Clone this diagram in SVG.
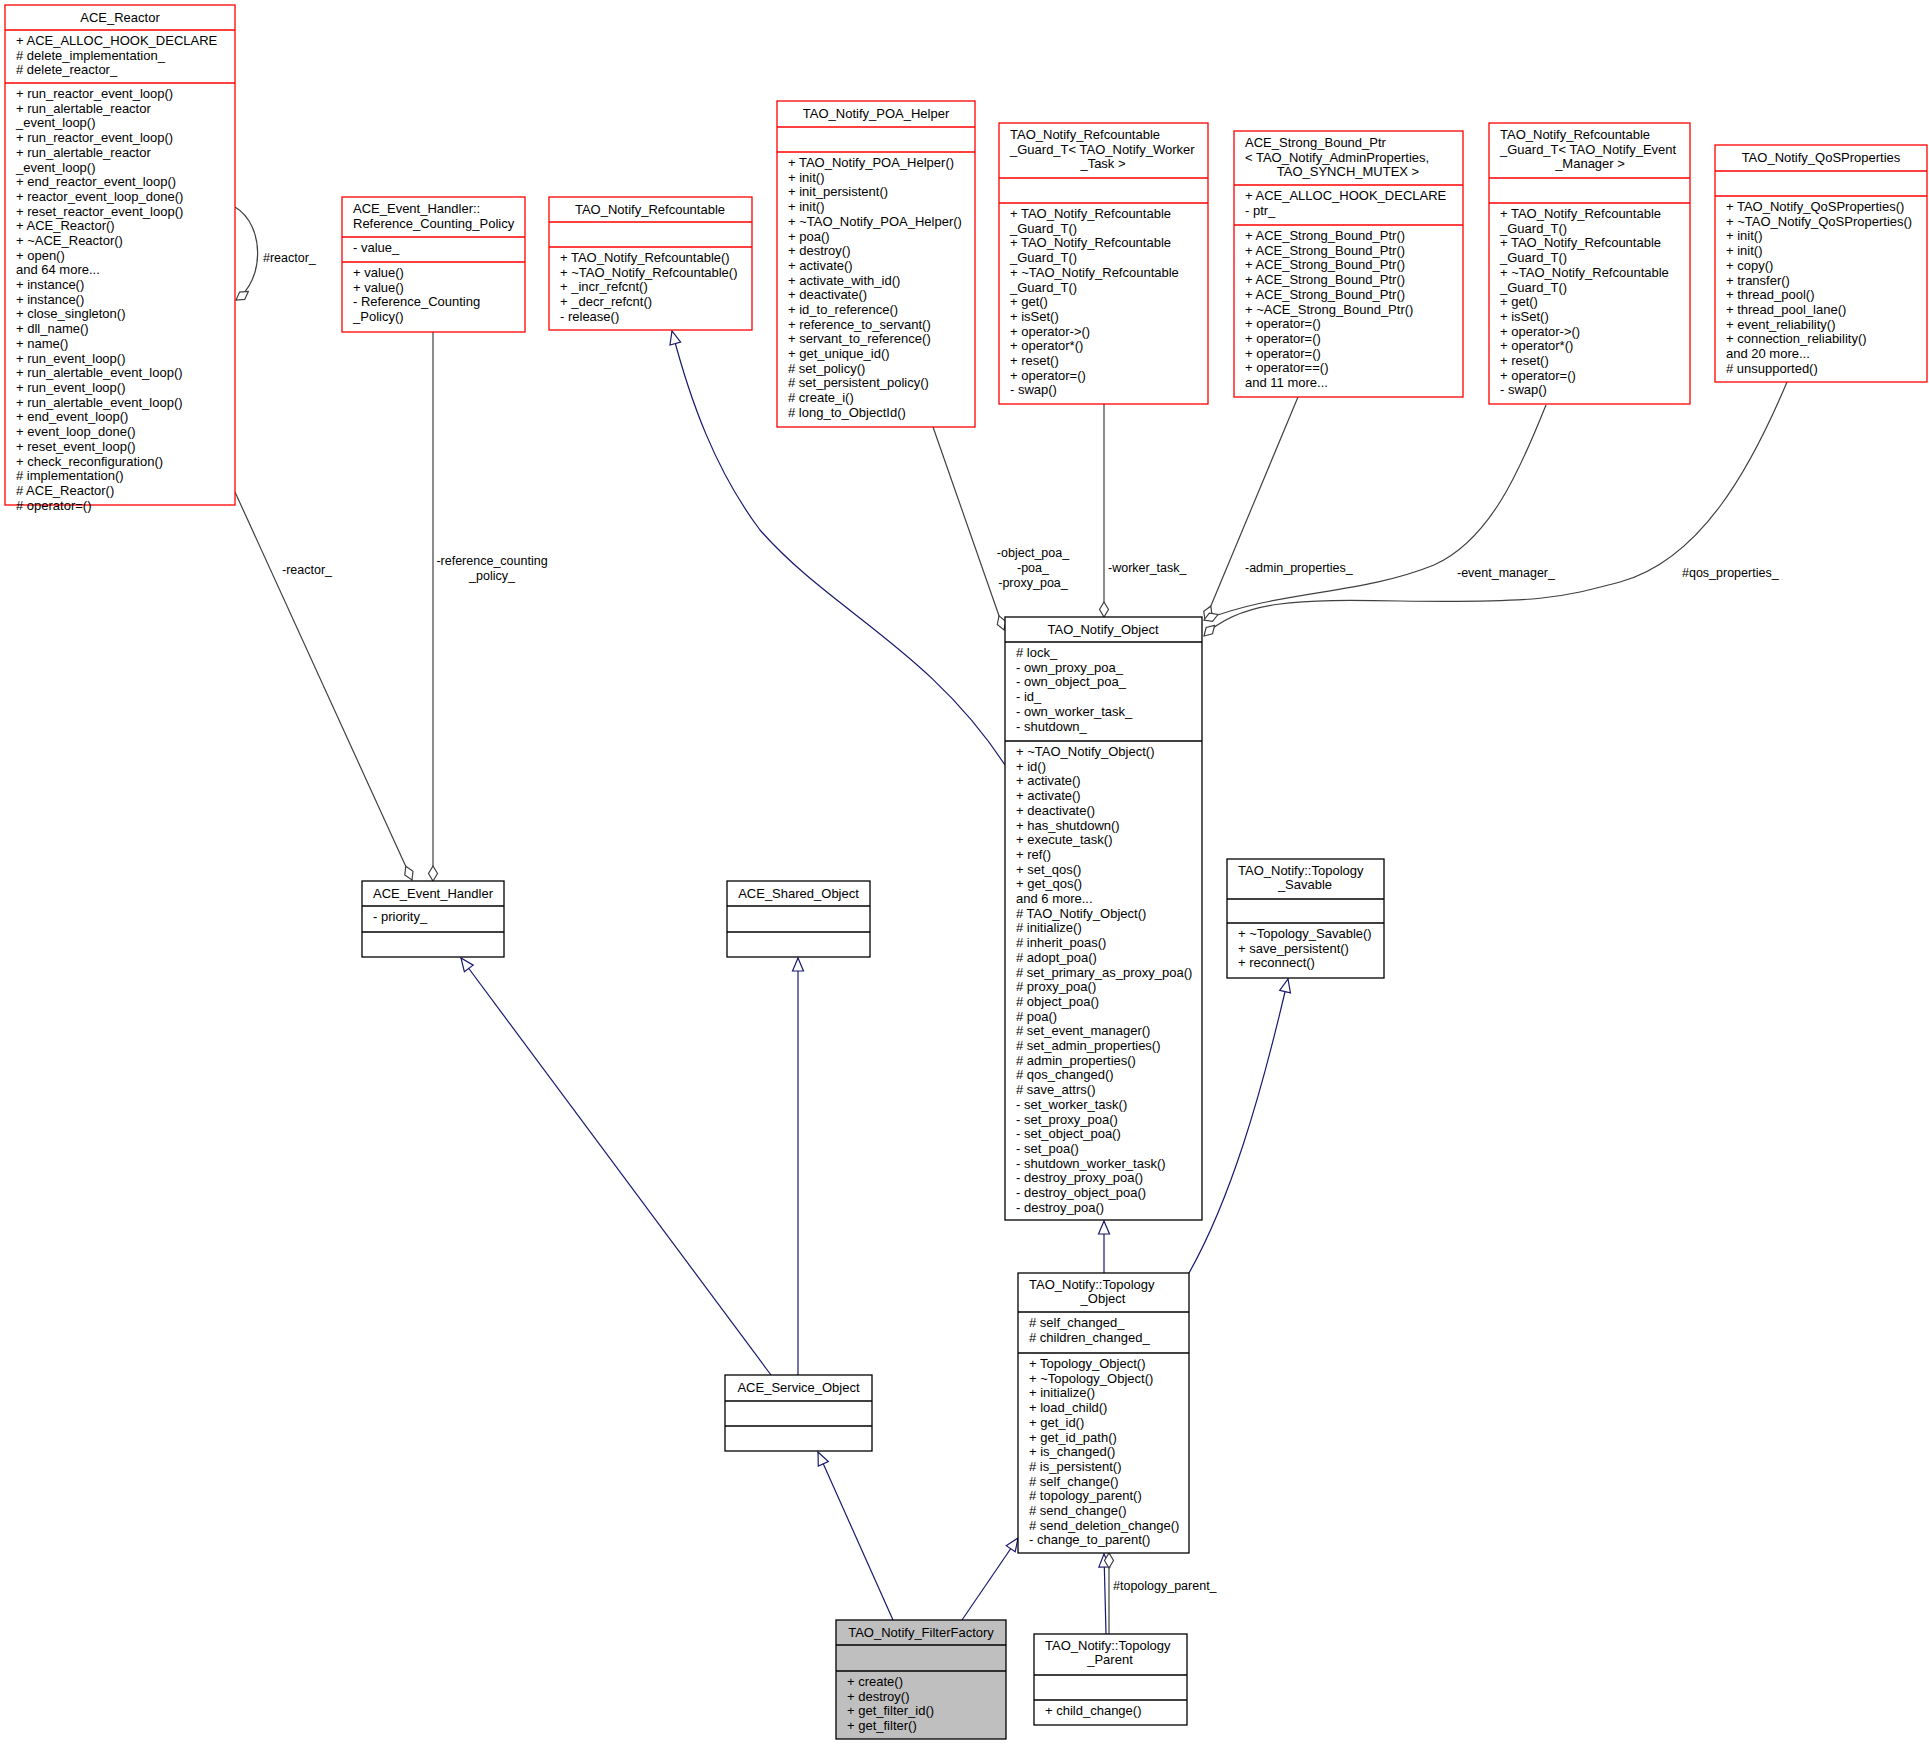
<svg xmlns="http://www.w3.org/2000/svg" width="1929" height="1747" viewBox="0 0 1929 1747">
<style>
text{font-family:"Liberation Sans",Arial,sans-serif;font-size:13px;fill:#000}
.c{text-anchor:middle}
rect{fill:#fff;stroke:#000;stroke-width:1.3}
.r rect{stroke:#ff0000}
line.s{stroke:#000;stroke-width:1.3}
.r line.s{stroke:#ff0000}
.agg{fill:none;stroke:#404040;stroke-width:1.2;marker-end:url(#dia)}
.inh{fill:none;stroke:#191970;stroke-width:1.2;marker-end:url(#tri)}
.lbl{font-size:12.5px}
</style>
<defs>
<marker id="dia" viewBox="-1 -6 17 12" refX="15" refY="0" markerWidth="17" markerHeight="12" markerUnits="userSpaceOnUse" orient="auto"><path d="M0,0 L7.5,-4.5 L15,0 L7.5,4.5 Z" fill="#fff" stroke="#404040" stroke-width="1.2"/></marker>
<marker id="tri" viewBox="-1 -7 15 14" refX="13" refY="0" markerWidth="15" markerHeight="14" markerUnits="userSpaceOnUse" orient="auto"><path d="M0,-5.5 L13,0 L0,5.5 Z" fill="#fff" stroke="#191970" stroke-width="1.2"/></marker>
</defs>

<g id="connectors">
<path class="agg" d="M235,207 C265,225 265,280 236,300"/>
<path class="agg" d="M235,492 L412,880"/>
<path class="agg" d="M433,332 L433,881"/>
<path class="inh" d="M1005,765 C930,650 830,610 760,530 C715,470 690,400 672,331"/>
<path class="agg" d="M933,427 L1004,630"/>
<path class="agg" d="M1104,404 L1104,617"/>
<path class="agg" d="M1298,397 L1205,620"/>
<path class="agg" d="M1546,405 C1520,470 1490,540 1434,565 C1360,595 1280,590 1204,620"/>
<path class="agg" d="M1787,382 C1750,470 1700,560 1620,582 C1560,598 1540,603 1400,601 C1300,599 1240,600 1204,636"/>
<path class="inh" d="M771,1375 L461,958"/>
<path class="inh" d="M798,1375 L798,958"/>
<path class="inh" d="M1104,1273 L1104,1221"/>
<path class="inh" d="M1189,1273 C1230,1200 1260,1100 1288,979"/>
<path class="inh" d="M893,1620 L818,1452"/>
<path class="inh" d="M962,1620 L1018,1538"/>
<path class="inh" d="M1106,1634 L1104,1554"/>
<path class="agg" d="M1109,1634 L1109,1553"/>
<text class="lbl" x="263" y="262">#reactor_</text>
<text class="lbl" x="282" y="574">-reactor_</text>
<text class="lbl c" x="492" y="565">-reference_counting</text>
<text class="lbl c" x="492" y="580">_policy_</text>
<text class="lbl c" x="1033" y="557">-object_poa_</text>
<text class="lbl c" x="1033" y="572">-poa_</text>
<text class="lbl c" x="1033" y="587">-proxy_poa_</text>
<text class="lbl" x="1108" y="572">-worker_task_</text>
<text class="lbl" x="1245" y="572">-admin_properties_</text>
<text class="lbl" x="1457" y="577">-event_manager_</text>
<text class="lbl" x="1682" y="577">#qos_properties_</text>
<text class="lbl" x="1113" y="1590">#topology_parent_</text>
</g>

<g id="ACE_Reactor" class="r">
<rect x="5" y="5" width="230" height="500"/>
<line class="s" x1="5" y1="30" x2="235" y2="30"/><line class="s" x1="5" y1="83" x2="235" y2="83"/>
<text class="c" x="120" y="22">ACE_Reactor</text>
<text x="16" y="45"><tspan>+ ACE_ALLOC_HOOK_DECLARE</tspan><tspan x="16" dy="14.7"># delete_implementation_</tspan><tspan x="16" dy="14.7"># delete_reactor_</tspan></text>
<text x="16" y="98"><tspan>+ run_reactor_event_loop()</tspan><tspan x="16" dy="14.7">+ run_alertable_reactor</tspan><tspan x="16" dy="14.7">_event_loop()</tspan><tspan x="16" dy="14.7">+ run_reactor_event_loop()</tspan><tspan x="16" dy="14.7">+ run_alertable_reactor</tspan><tspan x="16" dy="14.7">_event_loop()</tspan><tspan x="16" dy="14.7">+ end_reactor_event_loop()</tspan><tspan x="16" dy="14.7">+ reactor_event_loop_done()</tspan><tspan x="16" dy="14.7">+ reset_reactor_event_loop()</tspan><tspan x="16" dy="14.7">+ ACE_Reactor()</tspan><tspan x="16" dy="14.7">+ ~ACE_Reactor()</tspan><tspan x="16" dy="14.7">+ open()</tspan><tspan x="16" dy="14.7">and 64 more...</tspan><tspan x="16" dy="14.7">+ instance()</tspan><tspan x="16" dy="14.7">+ instance()</tspan><tspan x="16" dy="14.7">+ close_singleton()</tspan><tspan x="16" dy="14.7">+ dll_name()</tspan><tspan x="16" dy="14.7">+ name()</tspan><tspan x="16" dy="14.7">+ run_event_loop()</tspan><tspan x="16" dy="14.7">+ run_alertable_event_loop()</tspan><tspan x="16" dy="14.7">+ run_event_loop()</tspan><tspan x="16" dy="14.7">+ run_alertable_event_loop()</tspan><tspan x="16" dy="14.7">+ end_event_loop()</tspan><tspan x="16" dy="14.7">+ event_loop_done()</tspan><tspan x="16" dy="14.7">+ reset_event_loop()</tspan><tspan x="16" dy="14.7">+ check_reconfiguration()</tspan><tspan x="16" dy="14.7"># implementation()</tspan><tspan x="16" dy="14.7"># ACE_Reactor()</tspan><tspan x="16" dy="14.7"># operator=()</tspan></text>
</g>

<g id="Reference_Counting_Policy" class="r">
<rect x="342" y="197" width="183" height="135"/>
<line class="s" x1="342" y1="237" x2="525" y2="237"/><line class="s" x1="342" y1="262" x2="525" y2="262"/>
<text x="353" y="213"><tspan>ACE_Event_Handler::</tspan><tspan x="353" dy="14.7">Reference_Counting_Policy</tspan></text>
<text x="353" y="252">- value_</text>
<text x="353" y="277"><tspan>+ value()</tspan><tspan x="353" dy="14.7">+ value()</tspan><tspan x="353" dy="14.7">- Reference_Counting</tspan><tspan x="353" dy="14.7">_Policy()</tspan></text>
</g>

<g id="TAO_Notify_Refcountable" class="r">
<rect x="549" y="197" width="203" height="133"/>
<line class="s" x1="549" y1="222" x2="752" y2="222"/><line class="s" x1="549" y1="247" x2="752" y2="247"/>
<text class="c" x="650" y="214">TAO_Notify_Refcountable</text>
<text x="560" y="262"><tspan>+ TAO_Notify_Refcountable()</tspan><tspan x="560" dy="14.7">+ ~TAO_Notify_Refcountable()</tspan><tspan x="560" dy="14.7">+ _incr_refcnt()</tspan><tspan x="560" dy="14.7">+ _decr_refcnt()</tspan><tspan x="560" dy="14.7">- release()</tspan></text>
</g>

<g id="TAO_Notify_POA_Helper" class="r">
<rect x="777" y="101" width="198" height="326"/>
<line class="s" x1="777" y1="127" x2="975" y2="127"/><line class="s" x1="777" y1="152" x2="975" y2="152"/>
<text class="c" x="876" y="118">TAO_Notify_POA_Helper</text>
<text x="788" y="167"><tspan>+ TAO_Notify_POA_Helper()</tspan><tspan x="788" dy="14.7">+ init()</tspan><tspan x="788" dy="14.7">+ init_persistent()</tspan><tspan x="788" dy="14.7">+ init()</tspan><tspan x="788" dy="14.7">+ ~TAO_Notify_POA_Helper()</tspan><tspan x="788" dy="14.7">+ poa()</tspan><tspan x="788" dy="14.7">+ destroy()</tspan><tspan x="788" dy="14.7">+ activate()</tspan><tspan x="788" dy="14.7">+ activate_with_id()</tspan><tspan x="788" dy="14.7">+ deactivate()</tspan><tspan x="788" dy="14.7">+ id_to_reference()</tspan><tspan x="788" dy="14.7">+ reference_to_servant()</tspan><tspan x="788" dy="14.7">+ servant_to_reference()</tspan><tspan x="788" dy="14.7">+ get_unique_id()</tspan><tspan x="788" dy="14.7"># set_policy()</tspan><tspan x="788" dy="14.7"># set_persistent_policy()</tspan><tspan x="788" dy="14.7"># create_i()</tspan><tspan x="788" dy="14.7"># long_to_ObjectId()</tspan></text>
</g>

<g id="Guard_Worker_Task" class="r">
<rect x="999" y="123" width="209" height="281"/>
<line class="s" x1="999" y1="178" x2="1208" y2="178"/><line class="s" x1="999" y1="203" x2="1208" y2="203"/>
<text x="1010" y="139"><tspan>TAO_Notify_Refcountable</tspan><tspan x="1010" dy="14.7">_Guard_T&lt; TAO_Notify_Worker</tspan></text>
<text class="c" x="1103" y="168.4">_Task &gt;</text>
<text x="1010" y="218"><tspan>+ TAO_Notify_Refcountable</tspan><tspan x="1010" dy="14.7">_Guard_T()</tspan><tspan x="1010" dy="14.7">+ TAO_Notify_Refcountable</tspan><tspan x="1010" dy="14.7">_Guard_T()</tspan><tspan x="1010" dy="14.7">+ ~TAO_Notify_Refcountable</tspan><tspan x="1010" dy="14.7">_Guard_T()</tspan><tspan x="1010" dy="14.7">+ get()</tspan><tspan x="1010" dy="14.7">+ isSet()</tspan><tspan x="1010" dy="14.7">+ operator-&gt;()</tspan><tspan x="1010" dy="14.7">+ operator*()</tspan><tspan x="1010" dy="14.7">+ reset()</tspan><tspan x="1010" dy="14.7">+ operator=()</tspan><tspan x="1010" dy="14.7">- swap()</tspan></text>
</g>

<g id="ACE_Strong_Bound_Ptr" class="r">
<rect x="1234" y="131" width="229" height="266"/>
<line class="s" x1="1234" y1="185" x2="1463" y2="185"/><line class="s" x1="1234" y1="225" x2="1463" y2="225"/>
<text x="1245" y="147"><tspan>ACE_Strong_Bound_Ptr</tspan><tspan x="1245" dy="14.7">&lt; TAO_Notify_AdminProperties,</tspan></text>
<text class="c" x="1348" y="176.4">TAO_SYNCH_MUTEX &gt;</text>
<text x="1245" y="200"><tspan>+ ACE_ALLOC_HOOK_DECLARE</tspan><tspan x="1245" dy="14.7">- ptr_</tspan></text>
<text x="1245" y="240"><tspan>+ ACE_Strong_Bound_Ptr()</tspan><tspan x="1245" dy="14.7">+ ACE_Strong_Bound_Ptr()</tspan><tspan x="1245" dy="14.7">+ ACE_Strong_Bound_Ptr()</tspan><tspan x="1245" dy="14.7">+ ACE_Strong_Bound_Ptr()</tspan><tspan x="1245" dy="14.7">+ ACE_Strong_Bound_Ptr()</tspan><tspan x="1245" dy="14.7">+ ~ACE_Strong_Bound_Ptr()</tspan><tspan x="1245" dy="14.7">+ operator=()</tspan><tspan x="1245" dy="14.7">+ operator=()</tspan><tspan x="1245" dy="14.7">+ operator=()</tspan><tspan x="1245" dy="14.7">+ operator==()</tspan><tspan x="1245" dy="14.7">and 11 more...</tspan></text>
</g>

<g id="Guard_Event_Manager" class="r">
<rect x="1489" y="123" width="201" height="281"/>
<line class="s" x1="1489" y1="178" x2="1690" y2="178"/><line class="s" x1="1489" y1="203" x2="1690" y2="203"/>
<text x="1500" y="139"><tspan>TAO_Notify_Refcountable</tspan><tspan x="1500" dy="14.7">_Guard_T&lt; TAO_Notify_Event</tspan></text>
<text class="c" x="1590" y="168.4">_Manager &gt;</text>
<text x="1500" y="218"><tspan>+ TAO_Notify_Refcountable</tspan><tspan x="1500" dy="14.7">_Guard_T()</tspan><tspan x="1500" dy="14.7">+ TAO_Notify_Refcountable</tspan><tspan x="1500" dy="14.7">_Guard_T()</tspan><tspan x="1500" dy="14.7">+ ~TAO_Notify_Refcountable</tspan><tspan x="1500" dy="14.7">_Guard_T()</tspan><tspan x="1500" dy="14.7">+ get()</tspan><tspan x="1500" dy="14.7">+ isSet()</tspan><tspan x="1500" dy="14.7">+ operator-&gt;()</tspan><tspan x="1500" dy="14.7">+ operator*()</tspan><tspan x="1500" dy="14.7">+ reset()</tspan><tspan x="1500" dy="14.7">+ operator=()</tspan><tspan x="1500" dy="14.7">- swap()</tspan></text>
</g>

<g id="TAO_Notify_QoSProperties" class="r">
<rect x="1715" y="145" width="212" height="237"/>
<line class="s" x1="1715" y1="171" x2="1927" y2="171"/><line class="s" x1="1715" y1="196" x2="1927" y2="196"/>
<text class="c" x="1821" y="162">TAO_Notify_QoSProperties</text>
<text x="1726" y="211"><tspan>+ TAO_Notify_QoSProperties()</tspan><tspan x="1726" dy="14.7">+ ~TAO_Notify_QoSProperties()</tspan><tspan x="1726" dy="14.7">+ init()</tspan><tspan x="1726" dy="14.7">+ init()</tspan><tspan x="1726" dy="14.7">+ copy()</tspan><tspan x="1726" dy="14.7">+ transfer()</tspan><tspan x="1726" dy="14.7">+ thread_pool()</tspan><tspan x="1726" dy="14.7">+ thread_pool_lane()</tspan><tspan x="1726" dy="14.7">+ event_reliability()</tspan><tspan x="1726" dy="14.7">+ connection_reliability()</tspan><tspan x="1726" dy="14.7">and 20 more...</tspan><tspan x="1726" dy="14.7"># unsupported()</tspan></text>
</g>

<g id="TAO_Notify_Object">
<rect x="1005" y="617" width="197" height="603"/>
<line class="s" x1="1005" y1="642" x2="1202" y2="642"/><line class="s" x1="1005" y1="741" x2="1202" y2="741"/>
<text class="c" x="1103" y="634">TAO_Notify_Object</text>
<text x="1016" y="657"><tspan># lock_</tspan><tspan x="1016" dy="14.7">- own_proxy_poa_</tspan><tspan x="1016" dy="14.7">- own_object_poa_</tspan><tspan x="1016" dy="14.7">- id_</tspan><tspan x="1016" dy="14.7">- own_worker_task_</tspan><tspan x="1016" dy="14.7">- shutdown_</tspan></text>
<text x="1016" y="756"><tspan>+ ~TAO_Notify_Object()</tspan><tspan x="1016" dy="14.7">+ id()</tspan><tspan x="1016" dy="14.7">+ activate()</tspan><tspan x="1016" dy="14.7">+ activate()</tspan><tspan x="1016" dy="14.7">+ deactivate()</tspan><tspan x="1016" dy="14.7">+ has_shutdown()</tspan><tspan x="1016" dy="14.7">+ execute_task()</tspan><tspan x="1016" dy="14.7">+ ref()</tspan><tspan x="1016" dy="14.7">+ set_qos()</tspan><tspan x="1016" dy="14.7">+ get_qos()</tspan><tspan x="1016" dy="14.7">and 6 more...</tspan><tspan x="1016" dy="14.7"># TAO_Notify_Object()</tspan><tspan x="1016" dy="14.7"># initialize()</tspan><tspan x="1016" dy="14.7"># inherit_poas()</tspan><tspan x="1016" dy="14.7"># adopt_poa()</tspan><tspan x="1016" dy="14.7"># set_primary_as_proxy_poa()</tspan><tspan x="1016" dy="14.7"># proxy_poa()</tspan><tspan x="1016" dy="14.7"># object_poa()</tspan><tspan x="1016" dy="14.7"># poa()</tspan><tspan x="1016" dy="14.7"># set_event_manager()</tspan><tspan x="1016" dy="14.7"># set_admin_properties()</tspan><tspan x="1016" dy="14.7"># admin_properties()</tspan><tspan x="1016" dy="14.7"># qos_changed()</tspan><tspan x="1016" dy="14.7"># save_attrs()</tspan><tspan x="1016" dy="14.7">- set_worker_task()</tspan><tspan x="1016" dy="14.7">- set_proxy_poa()</tspan><tspan x="1016" dy="14.7">- set_object_poa()</tspan><tspan x="1016" dy="14.7">- set_poa()</tspan><tspan x="1016" dy="14.7">- shutdown_worker_task()</tspan><tspan x="1016" dy="14.7">- destroy_proxy_poa()</tspan><tspan x="1016" dy="14.7">- destroy_object_poa()</tspan><tspan x="1016" dy="14.7">- destroy_poa()</tspan></text>
</g>

<g id="ACE_Event_Handler">
<rect x="362" y="881" width="142" height="76"/>
<line class="s" x1="362" y1="906" x2="504" y2="906"/><line class="s" x1="362" y1="932" x2="504" y2="932"/>
<text class="c" x="433" y="898">ACE_Event_Handler</text>
<text x="373" y="921">- priority_</text>
</g>

<g id="ACE_Shared_Object">
<rect x="727" y="881" width="143" height="76"/>
<line class="s" x1="727" y1="906" x2="870" y2="906"/><line class="s" x1="727" y1="932" x2="870" y2="932"/>
<text class="c" x="798.5" y="898">ACE_Shared_Object</text>
</g>

<g id="Topology_Savable">
<rect x="1227" y="859" width="157" height="119"/>
<line class="s" x1="1227" y1="899" x2="1384" y2="899"/><line class="s" x1="1227" y1="923" x2="1384" y2="923"/>
<text x="1238" y="875">TAO_Notify::Topology</text>
<text class="c" x="1305" y="889">_Savable</text>
<text x="1238" y="938"><tspan>+ ~Topology_Savable()</tspan><tspan x="1238" dy="14.7">+ save_persistent()</tspan><tspan x="1238" dy="14.7">+ reconnect()</tspan></text>
</g>

<g id="Topology_Object">
<rect x="1018" y="1273" width="171" height="280"/>
<line class="s" x1="1018" y1="1312" x2="1189" y2="1312"/><line class="s" x1="1018" y1="1353" x2="1189" y2="1353"/>
<text x="1029" y="1289">TAO_Notify::Topology</text>
<text class="c" x="1103" y="1303">_Object</text>
<text x="1029" y="1327"><tspan># self_changed_</tspan><tspan x="1029" dy="14.7"># children_changed_</tspan></text>
<text x="1029" y="1368"><tspan>+ Topology_Object()</tspan><tspan x="1029" dy="14.7">+ ~Topology_Object()</tspan><tspan x="1029" dy="14.7">+ initialize()</tspan><tspan x="1029" dy="14.7">+ load_child()</tspan><tspan x="1029" dy="14.7">+ get_id()</tspan><tspan x="1029" dy="14.7">+ get_id_path()</tspan><tspan x="1029" dy="14.7">+ is_changed()</tspan><tspan x="1029" dy="14.7"># is_persistent()</tspan><tspan x="1029" dy="14.7"># self_change()</tspan><tspan x="1029" dy="14.7"># topology_parent()</tspan><tspan x="1029" dy="14.7"># send_change()</tspan><tspan x="1029" dy="14.7"># send_deletion_change()</tspan><tspan x="1029" dy="14.7">- change_to_parent()</tspan></text>
</g>

<g id="ACE_Service_Object">
<rect x="725" y="1375" width="147" height="76"/>
<line class="s" x1="725" y1="1401" x2="872" y2="1401"/><line class="s" x1="725" y1="1426" x2="872" y2="1426"/>
<text class="c" x="798.5" y="1392">ACE_Service_Object</text>
</g>

<g id="TAO_Notify_FilterFactory">
<rect x="836" y="1620" width="170" height="119" style="fill:#bfbfbf"/>
<line class="s" x1="836" y1="1645" x2="1006" y2="1645"/><line class="s" x1="836" y1="1671" x2="1006" y2="1671"/>
<text class="c" x="921" y="1637">TAO_Notify_FilterFactory</text>
<text x="847" y="1686"><tspan>+ create()</tspan><tspan x="847" dy="14.7">+ destroy()</tspan><tspan x="847" dy="14.7">+ get_filter_id()</tspan><tspan x="847" dy="14.7">+ get_filter()</tspan></text>
</g>

<g id="Topology_Parent">
<rect x="1034" y="1634" width="153" height="91"/>
<line class="s" x1="1034" y1="1675" x2="1187" y2="1675"/><line class="s" x1="1034" y1="1700" x2="1187" y2="1700"/>
<text x="1045" y="1650">TAO_Notify::Topology</text>
<text class="c" x="1110" y="1664">_Parent</text>
<text x="1045" y="1715">+ child_change()</text>
</g>
</svg>
